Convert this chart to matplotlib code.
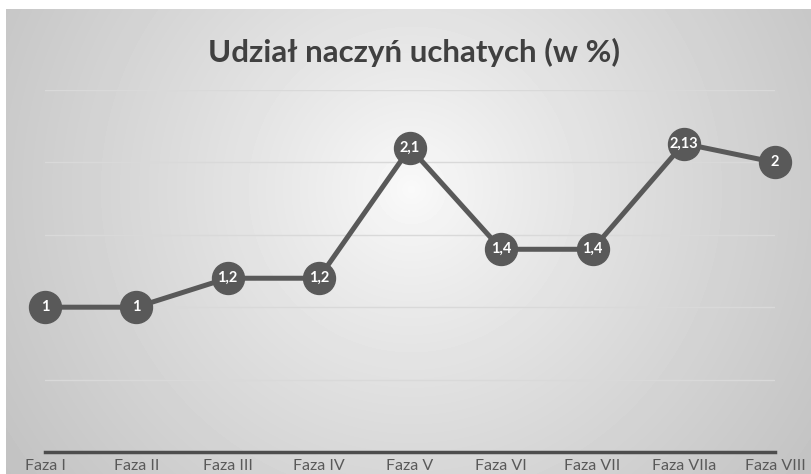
import numpy as np
import matplotlib.pyplot as plt

phases = ["Faza I", "Faza II", "Faza III", "Faza IV", "Faza V",
          "Faza VI", "Faza VII", "Faza VIIa", "Faza VIII"]
values = [1, 1, 1.2, 1.2, 2.1, 1.4, 1.4, 2.13, 2]
value_labels = ["1", "1", "1,2", "1,2", "2,1", "1,4", "1,4", "2,13", "2"]

W, H = 811, 474
fig = plt.figure(figsize=(W / 100, H / 100), dpi=100)

# radial grey gradient behind the chart
bg = fig.add_axes([6 / W, 0, 1 - 6 / W, 1 - 9 / H])
bg.set_axis_off()
yy, xx = np.mgrid[0:465, 0:805]
cx, cy = 405, 180
r = np.sqrt((xx - cx) ** 2 + (yy - cy) ** 2)
r = r / np.sqrt(cx ** 2 + (465 - cy) ** 2)
shade = 0.98 - 0.22 * np.clip(r, 0, 1) ** 0.85
bg.imshow(shade, cmap="gray", vmin=0, vmax=1, aspect="auto",
          interpolation="bilinear")

ax = fig.add_axes([45 / W, 1 - 452 / H, 730 / W, 362 / H])
ax.patch.set_alpha(0)
x = np.arange(len(phases))
ax.set_xlim(0, len(phases) - 1)
ax.set_ylim(0, 2.5)
ax.set_yticks(np.arange(0, 2.51, 0.5))
ax.yaxis.grid(True, color="#d9d9d9", lw=1)
ax.set_axisbelow(True)
for s in ["top", "right", "left"]:
    ax.spines[s].set_visible(False)
ax.spines["bottom"].set_color("#4d4d4d")
ax.spines["bottom"].set_linewidth(2.5)
ax.tick_params(left=False, labelleft=False, bottom=False, pad=1.5)
ax.set_xticks(x)
ax.set_xticklabels(phases, fontsize=11.5, color="#595959", family="Lato")

ax.plot(x, values, color="#595959", lw=3.6, marker="o", ms=23,
        mfc="#595959", mec="#595959", clip_on=False, zorder=3)
for xi, v, lab in zip(x, values, value_labels):
    ax.text(xi, v, lab, ha="center", va="center", color="white",
            fontsize=10.5, fontweight="bold", family="Lato", zorder=4)

fig.text(414 / W, 1 - 52 / H, "Udział naczyń uchatych (w %)", ha="center",
         va="center", fontsize=22.5, fontweight="bold", color="#404040",
         family="Lato")

fig.savefig("out.png", dpi=100)
